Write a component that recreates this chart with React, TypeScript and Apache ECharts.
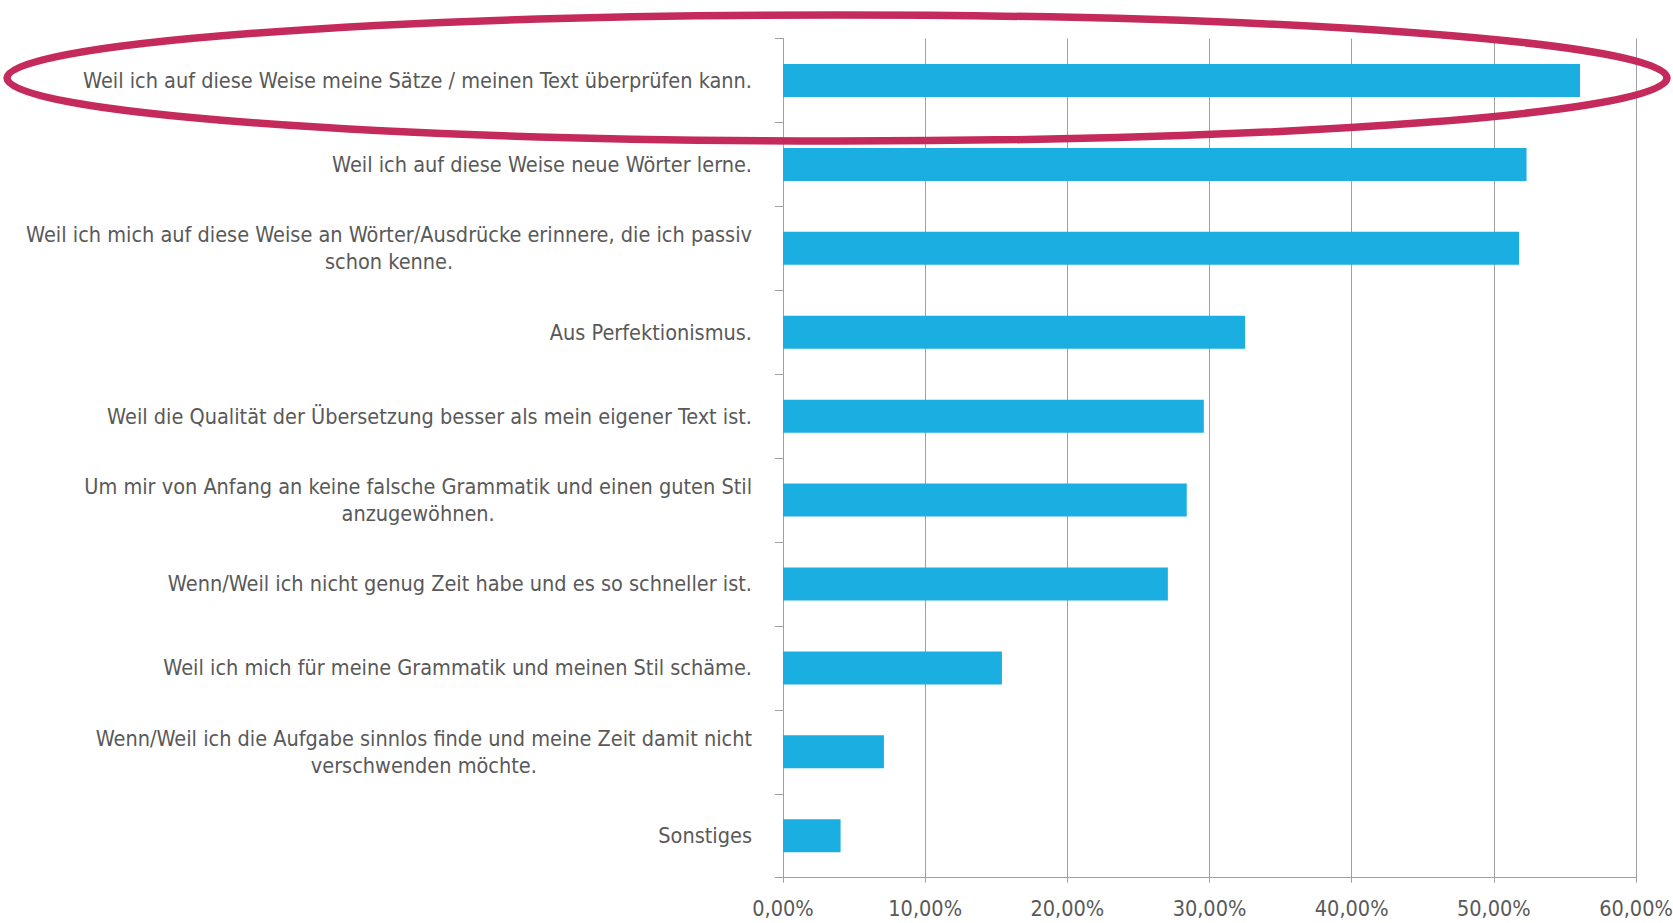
import React, { useEffect, useRef } from "react";
import * as echarts from "echarts";

const categories: string[] = [
  "Weil ich auf diese Weise meine Sätze / meinen Text überprüfen kann.",
  "Weil ich auf diese Weise neue Wörter lerne.",
  "Weil ich mich auf diese Weise an Wörter/Ausdrücke erinnere, die ich passiv\nschon kenne.",
  "Aus Perfektionismus.",
  "Weil die Qualität der Übersetzung besser als mein eigener Text ist.",
  "Um mir von Anfang an keine falsche Grammatik und einen guten Stil\nanzugewöhnen.",
  "Wenn/Weil ich nicht genug Zeit habe und es so schneller ist.",
  "Weil ich mich für meine Grammatik und meinen Stil schäme.",
  "Wenn/Weil ich die Aufgabe sinnlos finde und meine Zeit damit nicht\nverschwenden möchte.",
  "Sonstiges",
];

const values: number[] = [56.06, 52.3, 51.78, 32.5, 29.6, 28.4, 27.07, 15.4, 7.1, 4.05];

const xTicks = { min: 0, max: 60, interval: 10 };

const FONT = "'Liberation Sans Narrow', 'Arial Narrow', 'DejaVu Sans Condensed', sans-serif";
const TEXT_COLOR = "#595959";
const BAR_COLOR = "#1AAFE0";
const GRID_COLOR = "#A0A0A0";
const RING_COLOR = "#C42B5C";

export default function App() {
  const ref = useRef<HTMLDivElement>(null);

  useEffect(() => {
    if (!ref.current) return;
    const chart = echarts.init(ref.current, null, { renderer: "svg" });
    chart.setOption({
      animation: false,
      backgroundColor: "#ffffff",
      grid: {
        left: 783,
        right: 37,
        top: 38.5,
        bottom: 45.3,
        containLabel: false,
        outerBoundsMode: "none",
      },
      xAxis: {
        type: "value",
        min: xTicks.min,
        max: xTicks.max,
        interval: xTicks.interval,
        axisLine: { show: true, lineStyle: { color: GRID_COLOR, width: 1 } },
        axisTick: { show: true, length: 5, lineStyle: { color: GRID_COLOR } },
        splitLine: { show: true, lineStyle: { color: GRID_COLOR, width: 1 } },
        axisLabel: {
          margin: 20,
          fontFamily: FONT,
          fontSize: 21.5,
          color: TEXT_COLOR,
          formatter: (v: number) => v.toFixed(2).replace(".", ",") + "%",
        },
      },
      yAxis: {
        type: "category",
        data: categories,
        inverse: true,
        axisLine: { show: true, lineStyle: { color: GRID_COLOR, width: 1 } },
        axisTick: { show: true, length: 8, lineStyle: { color: GRID_COLOR } },
        splitLine: { show: false },
        axisLabel: {
          interval: 0,
          margin: 31,
          fontFamily: FONT,
          fontSize: 21.5,
          color: TEXT_COLOR,
          lineHeight: 27,
          formatter: (v: string) =>
            v
              .split("\n")
              .map((line) => "{c|" + line + "}")
              .join("\n"),
          rich: {
            c: {
              align: "center",
              fontFamily: FONT,
              fontSize: 21.5,
              color: TEXT_COLOR,
              lineHeight: 27,
            },
          },
        },
      },
      series: [
        {
          type: "bar",
          data: values,
          barWidth: 33,
          itemStyle: { color: BAR_COLOR },
          label: { show: false },
        },
      ],
      graphic: [
        {
          type: "ellipse",
          z: 100,
          shape: { cx: 837, cy: 78, rx: 830, ry: 63 },
          style: { fill: "none", stroke: RING_COLOR, lineWidth: 7.5 },
        },
      ],
    });
    return () => chart.dispose();
  }, []);

  return (
    <div
      ref={ref}
      style={{ position: "fixed", left: 0, top: 0, width: 1673, height: 923 }}
    />
  );
}
